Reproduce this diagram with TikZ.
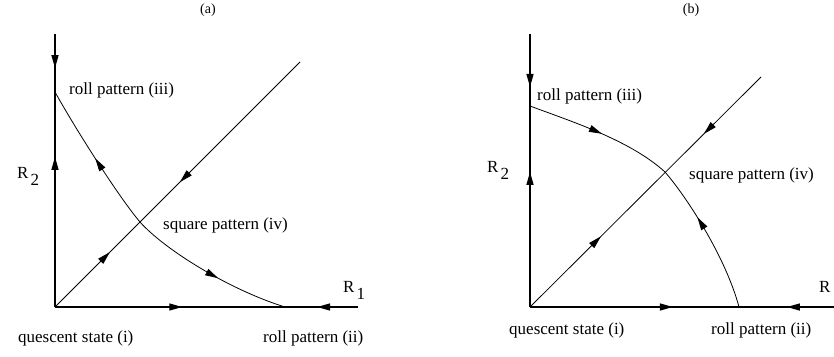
\documentclass[tikz,border=0pt]{standalone}
\usepackage{fontspec}
\setmainfont{Liberation Serif}
\usepackage{tikz}
\usetikzlibrary{arrows.meta,decorations.markings}
\tikzset{
  axisline/.style={line width=1.3pt},
  flowline/.style={line width=0.8pt},
  fwd/.style={postaction={decorate,decoration={markings,
      mark=at position #1 with {\arrow{Triangle[length=13pt,width=7pt]}}}}},
  bwd/.style={postaction={decorate,decoration={markings,
      mark=at position #1 with {\arrowreversed{Triangle[length=13pt,width=7pt]}}}}},
  lbl/.style={anchor=base west,inner sep=0pt}
}
\newcommand{\lowsub}[2]{#1\hspace{2pt}\raisebox{-7pt}{#2}}

\begin{document}
\begin{tikzpicture}[x=1pt,y=-1pt,font=\fontsize{17}{20}\selectfont]
    \useasboundingbox (0,0) rectangle (834,356);

    % Panel (a)
    \coordinate (Oa) at (55,307);
    \coordinate (Ta) at (55,34);
    \coordinate (Xa) at (358,307);
    \coordinate (Da) at (300,62);
    \coordinate (iia) at (285,307);
    \coordinate (iiia) at (55,92);
    \coordinate (iva) at (140,222);

    \draw[axisline, fwd=0.125, bwd=0.45] (Ta) -- (Oa);
    \draw[axisline, fwd=0.42, bwd=0.865] (Oa) -- (Xa);
    \draw[flowline, fwd=0.224, bwd=0.51] (Oa) -- (Da);

    % Unstable manifold of the square pattern
    \draw[flowline, fwd=0.5] (iva) .. controls (118,196) and (75,128) .. (iiia);
    \draw[flowline, fwd=0.57] (iva) .. controls (165,250) and (230,290) .. (iia);

    \node[anchor=base, font=\fontsize{14}{16}\selectfont] (titlea) at (208,13) {(a)};
    \node[lbl] (rolliiia) at (69,94) {roll pattern (iii)};
    \node[lbl] (squarea) at (163,229) {square pattern (iv)};
    \node[lbl] (Rtwoa) at (17,178) {\lowsub{R}{2}};
    \node[lbl] (Ronea) at (343,292) {\lowsub{R}{1}};
    \node[lbl] (quesca) at (18,342) {quescent state (i)};
    \node[lbl] (rolliia) at (263,342) {roll pattern (ii)};

    % Panel (b)
    \coordinate (Ob) at (530,307);
    \coordinate (Tb) at (530,34);
    \coordinate (Xb) at (834,307);
    \coordinate (Db) at (761,77);
    \coordinate (iib) at (739,307);
    \coordinate (iiib) at (530,106);
    \coordinate (ivb) at (665,172);

    \draw[axisline, fwd=0.194, bwd=0.505] (Tb) -- (Ob);
    \draw[axisline, fwd=0.47, bwd=0.845] (Ob) -- (Xb);
    \draw[flowline, fwd=0.307, bwd=0.753] (Ob) -- (Db);

    % Stable manifold of the square pattern
    \draw[flowline, fwd=0.51] (iiib) .. controls (570,121) and (630,140) .. (ivb);
    \draw[flowline, fwd=0.64] (iib) .. controls (725,255) and (685,195) .. (ivb);

    \node[anchor=base, font=\fontsize{14}{16}\selectfont] (titleb) at (691,13) {(b)};
    \node[lbl] (rolliiib) at (537,100) {roll pattern (iii)};
    \node[lbl] (squareb) at (689,179) {square pattern (iv)};
    \node[lbl] (Rtwob) at (487,172) {\lowsub{R}{2}};
    \node[lbl] (Roneb) at (819,292) {R};
    \node[lbl] (quescb) at (509,334) {quescent state (i)};
    \node[lbl] (rolliib) at (711,334) {roll pattern (ii)};
\end{tikzpicture}
\end{document}
